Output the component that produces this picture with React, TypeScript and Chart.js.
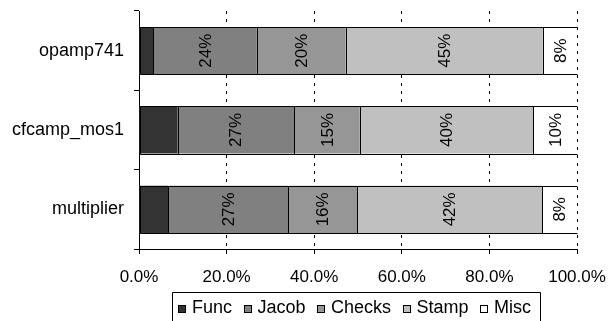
import React, { useEffect, useRef } from 'react';
import { Chart, registerables } from 'chart.js';

Chart.register(...registerables);

const categories = ['opamp741', 'cfcamp_mos1', 'multiplier'];
const seriesNames = ['Func', 'Jacob', 'Checks', 'Stamp', 'Misc'];
const funcValues = [3.3, 8.8, 6.7];
const jacobValues = [23.6, 26.6, 27.4];
const checksValues = [20.3, 15.0, 15.7];
const stampValues = [45.0, 39.6, 42.3];
const miscValues = [7.8, 10.0, 7.9];
const xTicks = [0, 20, 40, 60, 80, 100];
const seriesColors = ['#333333', '#808080', '#969696', '#c0c0c0', '#ffffff'];
const labelledSeries = [false, true, true, true, true];

const FONT = 'Liberation Sans, Arial, sans-serif';
const FS = 17;

const barOutlines = {
  id: 'barOutlines',
  afterDatasetsDraw(chart: any) {
    const ctx = chart.ctx;
    const area = chart.chartArea;
    ctx.save();
    ctx.strokeStyle = '#000';
    ctx.lineWidth = 1;
    chart.data.datasets.forEach((ds: any, i: number) => {
      const meta = chart.getDatasetMeta(i);
      meta.data.forEach((bar: any) => {
        const p = bar.getProps(['x', 'y', 'base', 'height'], true);
        const x1 = Math.round(Math.min(p.x, p.base)) + 0.5;
        const x2 = Math.round(Math.max(p.x, p.base)) + 0.5;
        const y1 = Math.round(p.y - p.height / 2) + 0.5;
        const y2 = Math.round(p.y + p.height / 2) + 0.5;
        const atEnd = Math.abs(Math.max(p.x, p.base) - area.right) < 1;
        ctx.beginPath();
        if (atEnd) {
          ctx.moveTo(x2, y1);
          ctx.lineTo(x1, y1);
          ctx.lineTo(x1, y2);
          ctx.lineTo(x2, y2);
        } else {
          ctx.rect(x1, y1, x2 - x1, y2 - y1);
        }
        ctx.stroke();
      });
    });
    ctx.restore();
  },
};

const segmentLabels = {
  id: 'segmentLabels',
  afterDatasetsDraw(chart: any) {
    const ctx = chart.ctx;
    chart.data.datasets.forEach((ds: any, i: number) => {
      if (!labelledSeries[i]) return;
      const meta = chart.getDatasetMeta(i);
      meta.data.forEach((bar: any, j: number) => {
        const p = bar.getProps(['x', 'y', 'base'], true);
        const cx = (p.x + p.base) / 2;
        ctx.save();
        ctx.translate(cx + 1, p.y);
        ctx.rotate(-Math.PI / 2);
        ctx.font = `${FS}px ${FONT}`;
        ctx.fillStyle = '#000';
        ctx.textAlign = 'center';
        ctx.textBaseline = 'middle';
        ctx.fillText(Math.round(ds.data[j]) + '%', 0, 0);
        ctx.restore();
      });
    });
  },
};

const boxLegend = {
  id: 'boxLegend',
  afterDraw(chart: any) {
    const ctx = chart.ctx;
    const area = chart.chartArea;
    ctx.save();
    ctx.font = `18px ${FONT}`;
    const box = 8;
    const gapBT = 6;
    const gapItem = 11.5;
    const padL = 6;
    const padR = 9;
    const widths = chart.data.datasets.map((d: any) => ctx.measureText(d.label).width);
    let total = 0;
    widths.forEach((w: number, i: number) => {
      total += box + gapBT + w + (i > 0 ? gapItem : 0);
    });
    const left = Math.round(area.left + 33);
    let x = left + padL;
    const right = Math.round(x + total + padR);
    const top = 292;
    ctx.strokeStyle = '#000';
    ctx.lineWidth = 1;
    ctx.beginPath();
    ctx.moveTo(left + 0.5, 340);
    ctx.lineTo(left + 0.5, top + 0.5);
    ctx.lineTo(right + 0.5, top + 0.5);
    ctx.lineTo(right + 0.5, 340);
    ctx.stroke();
    const baseY = 313;
    chart.data.datasets.forEach((d: any, i: number) => {
      const bx = Math.round(x);
      ctx.fillStyle = d.backgroundColor;
      ctx.fillRect(bx, baseY - box, box, box);
      ctx.strokeRect(bx + 0.5, baseY - box + 0.5, box - 1, box - 1);
      ctx.fillStyle = '#000';
      ctx.textAlign = 'left';
      ctx.textBaseline = 'alphabetic';
      ctx.fillText(d.label, x + box + gapBT, baseY);
      x += box + gapBT + widths[i] + gapItem;
    });
    ctx.restore();
  },
};

const zeroPad = (s: any) => {
  s.paddingLeft = 0;
  s.paddingRight = 0;
  s.paddingTop = 0;
  s.paddingBottom = 0;
};

export default function App() {
  const ref = useRef<HTMLCanvasElement>(null);
  useEffect(() => {
    if (!ref.current) return;
    const values = [funcValues, jacobValues, checksValues, stampValues, miscValues];
    const chart = new Chart(ref.current, {
      type: 'bar',
      data: {
        labels: categories,
        datasets: seriesNames.map((name, i) => ({
          label: name,
          data: values[i],
          backgroundColor: seriesColors[i],
          borderWidth: 0,
          barPercentage: 0.595,
          categoryPercentage: 1,
        })),
      },
      options: {
        indexAxis: 'y',
        animation: false,
        responsive: false,
        events: [],
        layout: { padding: { top: 11, right: 31, left: 0, bottom: 0 } },
        font: { family: FONT, size: FS },
        plugins: { legend: { display: false }, tooltip: { enabled: false } },
        scales: {
          x: {
            stacked: true,
            min: 0,
            max: 100,
            afterBuildTicks: (s: any) => {
              s.ticks = xTicks.map((v) => ({ value: v }));
            },
            afterFit: (s: any) => {
              s.height = 72;
              zeroPad(s);
            },
            ticks: {
              color: '#000',
              font: { family: FONT, size: FS },
              padding: 13,
              maxRotation: 0,
              callback: (v: any) => Number(v).toFixed(1) + '%',
            },
            grid: {
              color: '#000',
              lineWidth: 1,
              tickLength: 5,
              tickColor: '#000',
              drawTicks: true,
            },
            border: { display: true, color: '#000', width: 1, dash: [3, 5] },
          },
          y: {
            stacked: true,
            afterFit: (s: any) => {
              s.width = 139;
              zeroPad(s);
            },
            ticks: {
              color: '#000',
              font: { family: FONT, size: 18 },
              padding: 10,
            },
            grid: {
              offset: true,
              drawOnChartArea: false,
              drawTicks: true,
              tickLength: 5,
              color: '#000',
              tickColor: '#000',
            },
            border: { display: true, color: '#000', width: 1 },
          },
        },
      },
      plugins: [barOutlines, segmentLabels, boxLegend],
    } as any);
    return () => chart.destroy();
  }, []);
  return (
    <div style={{ position: 'absolute', left: 0, top: 0, width: 608, height: 321, background: '#fff' }}>
      <canvas ref={ref} width={608} height={321} />
    </div>
  );
}
